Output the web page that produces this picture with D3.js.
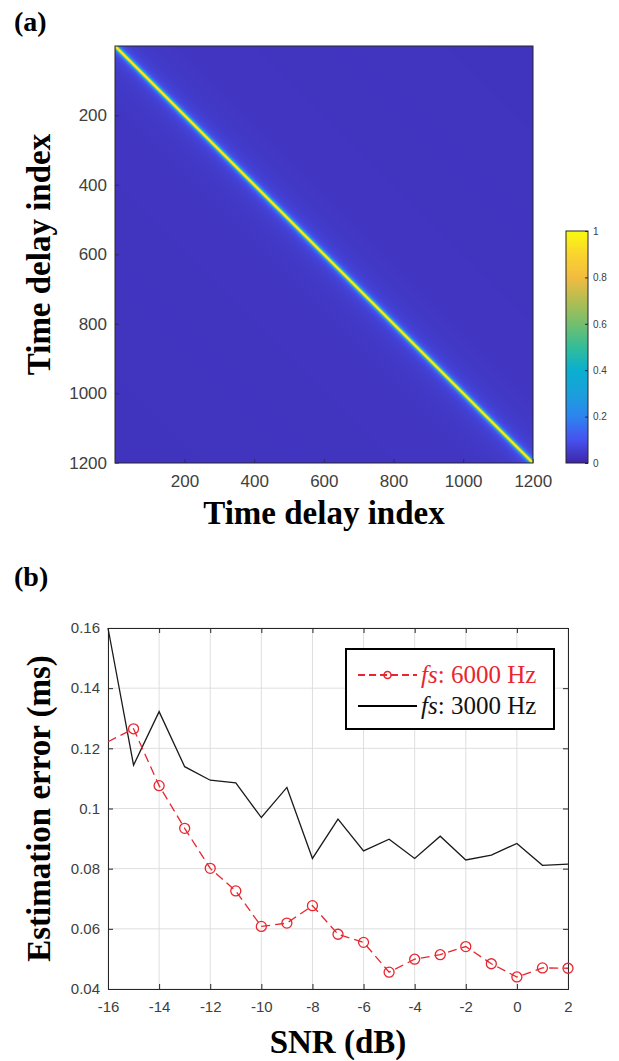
<!DOCTYPE html>
<html>
<head>
  <meta charset="utf-8">
  <title>Time delay correlation and estimation error</title>
  <script src="https://d3js.org/d3.v7.min.js"></script>
  <style>
    body { margin: 0; background: #fff; }
  </style>
</head>
<body>
  <svg id="grafico"></svg>

  <script>
    // ---- panel (a): correlation matrix, described by value vs. lag |i-j|
    const nIndex = 1200;
    const lagPoints = [0, 2, 4, 6, 8, 10, 13, 17, 25, 40, 80, 200, 1199];
    const lagValues = [1, 0.97, 0.86, 0.62, 0.42, 0.28, 0.17, 0.11, 0.08, 0.06, 0.045, 0.035, 0.03];
    const heatTicks = [200, 400, 600, 800, 1000, 1200];
    const cbTicks = [0, 0.2, 0.4, 0.6, 0.8, 1];
    const parulaStops = [0, 0.1, 0.2, 0.3, 0.4, 0.5, 0.6, 0.7, 0.8, 0.9, 1];
    const parulaColors = ["#3e26a8", "#4652f0", "#2d84ef", "#1aa0db", "#0aafd0", "#33bd98",
                          "#73bf6e", "#b3bd52", "#f2bc40", "#fad42e", "#f9fb0e"];

    // ---- panel (b): estimation error vs SNR
    const snr = [-16, -15, -14, -13, -12, -11, -10, -9, -8, -7, -6, -5, -4, -3, -2, -1, 0, 1, 2];
    const err6000 = [0.1222, 0.1265, 0.1076, 0.0934, 0.0801, 0.0726, 0.0608, 0.0619, 0.0677, 0.0582,
                     0.0555, 0.0456, 0.0499, 0.0514, 0.0541, 0.0484, 0.0440, 0.0470, 0.0469];
    const err3000 = [0.1600, 0.1144, 0.1322, 0.1139, 0.1094, 0.1085, 0.0970, 0.1070, 0.0834, 0.0965,
                     0.0859, 0.0898, 0.0834, 0.0908, 0.0829, 0.0845, 0.0884, 0.0811, 0.0815];
    const snrTicks = [-16, -14, -12, -10, -8, -6, -4, -2, 0, 2];
    const errTicks = [0.04, 0.06, 0.08, 0.1, 0.12, 0.14, 0.16];
    const legendLabels = ["6000 Hz", "3000 Hz"];

    const W = 619, H = 1061;
    const axisColor = "#262626";
    const tickColor = "#404040";
    const serif = "'Liberation Serif', 'Times New Roman', serif";
    const sans = "'Liberation Sans', Arial, sans-serif";

    const svg = d3.select("#grafico")
      .attr("width", W)
      .attr("height", H);

    // ================= panel (a) =================
    const hx = d3.scaleLinear().domain([0.5, nIndex + 0.5]).range([115, 533]);
    const hy = d3.scaleLinear().domain([0.5, nIndex + 0.5]).range([46, 463]);
    const lagScale = d3.scaleLinear().domain(lagPoints).range(lagValues).clamp(true);
    const color = d3.scaleLinear().domain(parulaStops).range(parulaColors).interpolate(d3.interpolateRgb);

    // colour for every lag, then paint the matrix
    const lagRgb = d3.range(nIndex).map(l => d3.rgb(color(lagScale(l))));
    const canvas = document.createElement("canvas");
    canvas.width = nIndex;
    canvas.height = nIndex;
    const ctx = canvas.getContext("2d");
    const img = ctx.createImageData(nIndex, nIndex);
    for (let i = 0; i < nIndex; i++) {
      for (let j = 0; j < nIndex; j++) {
        const c = lagRgb[Math.abs(i - j)];
        const k = (i * nIndex + j) * 4;
        img.data[k] = c.r;
        img.data[k + 1] = c.g;
        img.data[k + 2] = c.b;
        img.data[k + 3] = 255;
      }
    }
    ctx.putImageData(img, 0, 0);

    const pa = svg.append("g");
    pa.append("image")
      .attr("href", canvas.toDataURL())
      .attr("x", hx(0.5))
      .attr("y", hy(0.5))
      .attr("width", hx(nIndex + 0.5) - hx(0.5))
      .attr("height", hy(nIndex + 0.5) - hy(0.5))
      .attr("preserveAspectRatio", "none");

    pa.append("rect")
      .attr("x", hx(0.5)).attr("y", hy(0.5))
      .attr("width", hx(nIndex + 0.5) - hx(0.5))
      .attr("height", hy(nIndex + 0.5) - hy(0.5))
      .attr("fill", "none").attr("stroke", axisColor).attr("stroke-width", 1);

    const hxAxis = pa.append("g")
      .attr("transform", `translate(0,${hy(nIndex + 0.5)})`)
      .call(d3.axisBottom(hx).tickValues(heatTicks).tickSize(-4).tickPadding(12).tickFormat(d3.format("d")));
    const hyAxis = pa.append("g")
      .attr("transform", `translate(${hx(0.5)},0)`)
      .call(d3.axisLeft(hy).tickValues(heatTicks).tickSize(-4).tickPadding(8).tickFormat(d3.format("d")));
    [hxAxis, hyAxis].forEach(a => {
      a.select(".domain").remove();
      a.selectAll("line").attr("stroke", axisColor).attr("stroke-opacity", 0.6);
      a.selectAll("text").attr("fill", tickColor)
        .style("font-size", "17px").style("font-family", sans);
    });

    // colour bar
    const cbX = 566, cbW = 22;
    const cby = d3.scaleLinear().domain([0, 1]).range([463, 231]);
    const grad = svg.append("defs").append("linearGradient")
      .attr("id", "parula").attr("x1", 0).attr("y1", 1).attr("x2", 0).attr("y2", 0);
    grad.selectAll("stop").data(parulaStops).join("stop")
      .attr("offset", d => d)
      .attr("stop-color", d => color(d));
    pa.append("rect")
      .attr("x", cbX).attr("y", cby(1))
      .attr("width", cbW).attr("height", cby(0) - cby(1))
      .attr("fill", "url(#parula)")
      .attr("stroke", axisColor).attr("stroke-width", 1);
    const cbAxis = pa.append("g")
      .attr("transform", `translate(${cbX + cbW},0)`)
      .call(d3.axisRight(cby).tickValues(cbTicks).tickSize(-3).tickPadding(5).tickFormat(d3.format("~g")));
    cbAxis.select(".domain").remove();
    cbAxis.selectAll("line").attr("stroke", axisColor);
    cbAxis.selectAll("text").attr("fill", tickColor)
      .style("font-size", "10px").style("font-family", sans);

    const bold = sel => sel.style("font-family", serif).style("font-weight", "bold");

    pa.append("text")
      .attr("x", 324).attr("y", 524)
      .attr("text-anchor", "middle")
      .call(bold).style("font-size", "33px")
      .text("Time delay index");
    pa.append("text")
      .attr("transform", `translate(50,${(hy(0.5) + hy(nIndex + 0.5)) / 2}) rotate(-90)`)
      .attr("text-anchor", "middle")
      .call(bold).style("font-size", "33px")
      .text("Time delay index");
    pa.append("text")
      .attr("x", 14).attr("y", 31)
      .call(bold).style("font-size", "28px")
      .text("(a)");

    // ================= panel (b) =================
    const x = d3.scaleLinear().domain([-16, 2]).range([108, 568]);
    const y = d3.scaleLinear().domain([0.04, 0.16]).range([989, 628]);
    const pb = svg.append("g");

    pb.append("text")
      .attr("x", 14).attr("y", 586)
      .call(bold).style("font-size", "28px")
      .text("(b)");

    // grid
    pb.append("g").selectAll("line").data(snrTicks).join("line")
      .attr("x1", d => x(d)).attr("x2", d => x(d))
      .attr("y1", y(0.16)).attr("y2", y(0.04))
      .attr("stroke", "#dedede").attr("stroke-width", 1);
    pb.append("g").selectAll("line").data(errTicks).join("line")
      .attr("x1", x(-16)).attr("x2", x(2))
      .attr("y1", d => y(d)).attr("y2", d => y(d))
      .attr("stroke", "#dedede").attr("stroke-width", 1);

    // axes with inside ticks on all four sides
    const xb = pb.append("g").attr("transform", `translate(0,${y(0.04)})`)
      .call(d3.axisBottom(x).tickValues(snrTicks).tickSize(-5).tickPadding(12).tickFormat(d3.format("d")));
    const xt = pb.append("g").attr("transform", `translate(0,${y(0.16)})`)
      .call(d3.axisTop(x).tickValues(snrTicks).tickSize(-5).tickFormat(""));
    const yl = pb.append("g").attr("transform", `translate(${x(-16)},0)`)
      .call(d3.axisLeft(y).tickValues(errTicks).tickSize(-5).tickPadding(8).tickFormat(d3.format("~g")));
    const yr = pb.append("g").attr("transform", `translate(${x(2)},0)`)
      .call(d3.axisRight(y).tickValues(errTicks).tickSize(-5).tickFormat(""));
    [xb, xt, yl, yr].forEach(a => {
      a.select(".domain").attr("stroke", axisColor);
      a.selectAll("line").attr("stroke", axisColor);
      a.selectAll("text").attr("fill", tickColor)
        .style("font-size", "15px").style("font-family", sans);
    });
    // MATLAB style minus sign is a plain hyphen
    xb.selectAll("text").text(d => String(d));

    const red = "#e8262f";
    const line = d3.line().x((d, i) => x(snr[i])).y(d => y(d));

    pb.append("path")
      .datum(err3000)
      .attr("d", line)
      .attr("fill", "none")
      .attr("stroke", "#1a1a1a")
      .attr("stroke-width", 1.3);

    pb.append("path")
      .datum(err6000)
      .attr("d", line)
      .attr("fill", "none")
      .attr("stroke", red)
      .attr("stroke-width", 1.3)
      .attr("stroke-dasharray", "9,5");

    // markers (the first point sits on the axis limit and shows no marker)
    pb.append("g").selectAll("circle")
      .data(err6000.map((v, i) => ({ s: snr[i], v })).filter(d => d.s > -16))
      .join("circle")
      .attr("cx", d => x(d.s))
      .attr("cy", d => y(d.v))
      .attr("r", 5)
      .attr("fill", "none")
      .attr("stroke", red)
      .attr("stroke-width", 1.3);

    // legend
    const lg = pb.append("g");
    lg.append("rect")
      .attr("x", 346).attr("y", 649).attr("width", 208).attr("height", 80)
      .attr("fill", "#fff").attr("stroke", "#000").attr("stroke-width", 2);
    lg.append("line")
      .attr("x1", 358).attr("x2", 417).attr("y1", 675).attr("y2", 675)
      .attr("stroke", red).attr("stroke-width", 2).attr("stroke-dasharray", "7,4");
    lg.append("circle")
      .attr("cx", 387.5).attr("cy", 675).attr("r", 3.5)
      .attr("fill", "none").attr("stroke", red).attr("stroke-width", 1.5);
    lg.append("line")
      .attr("x1", 358).attr("x2", 417).attr("y1", 706).attr("y2", 706)
      .attr("stroke", "#000").attr("stroke-width", 2);

    const legendColors = [red, "#111"];
    legendLabels.forEach((lab, i) => {
      const t = lg.append("text")
        .attr("x", 421).attr("y", 683 + i * 31)
        .style("font-family", serif).style("font-size", "25px")
        .attr("fill", legendColors[i]);
      t.append("tspan").style("font-style", "italic").text("fs");
      t.append("tspan").text(": " + lab);
    });

    pb.append("text")
      .attr("x", x(-7)).attr("y", 1053)
      .attr("text-anchor", "middle")
      .call(bold).style("font-size", "33px")
      .text("SNR (dB)");
    pb.append("text")
      .attr("transform", `translate(50,${(y(0.04) + y(0.16)) / 2}) rotate(-90)`)
      .attr("text-anchor", "middle")
      .call(bold).style("font-size", "33px")
      .text("Estimation error (ms)");
  </script>
</body>
</html>
